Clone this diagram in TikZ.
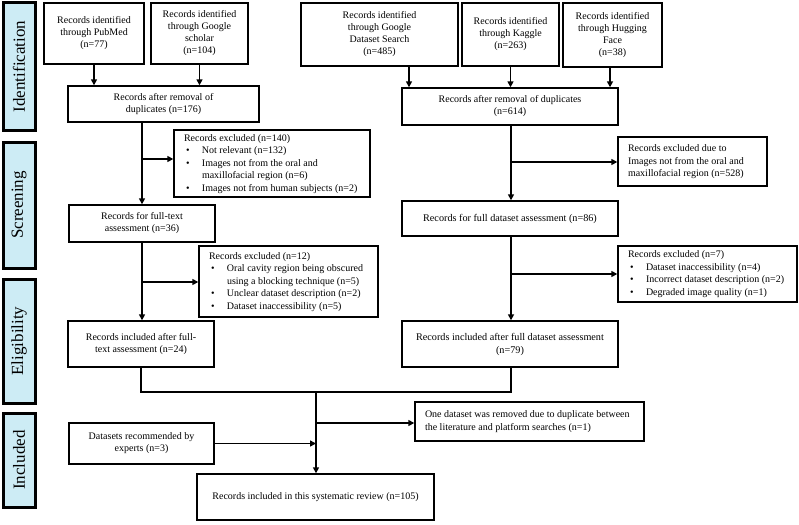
\documentclass[tikz,border=0pt]{standalone}
\usepackage{fontspec}
\setmainfont{Liberation Serif}
\usetikzlibrary{arrows.meta}
\definecolor{sidefill}{RGB}{205,236,245}
\newcommand\bulitem{\hspace*{2pt}\makebox[16pt][l]{\textbullet}}
\newcommand\indline{\hspace*{18pt}}
\newcommand\lefttext[2]{\makebox[#1][l]{\begin{tabular}{@{}l@{}}#2\end{tabular}}}
\begin{document}
\begin{tikzpicture}[x=1pt,y=-1pt,
  box/.style={draw, line width=1.4pt, inner sep=2pt, align=center, font=\fontsize{10}{12}\selectfont},
  bx/.style 2 args={box, minimum width=#1pt, minimum height=#2pt},
  lb/.style 2 args={box, inner xsep=10pt, minimum width=#1pt, minimum height=#2pt, font=\fontsize{10}{12.5}\selectfont},
  big/.style={font=\fontsize{10.2}{13}\selectfont},
  side/.style={draw, line width=3pt, fill=sidefill, minimum height=32pt, rotate=90, inner sep=0pt, font=\fontsize{17}{20}\selectfont},
  conn/.style={line width=1.8pt},
  arr/.style={conn, -{Triangle[length=6pt,width=6pt]}},
]
\useasboundingbox (0,0) rectangle (799,524);
\fill[white] (0,0) rectangle (799,524);

% side bars
\node[side, minimum width=127pt] (sId) at (19,66.5) {Identification};
\node[side, minimum width=126pt] (sSc) at (19,205) {Screening};
\node[side, minimum width=124pt] (sEl) at (19,341) {Eligibility};
\node[side, minimum width=94pt] (sIn) at (19,460) {Included};

% left column
\node[bx={100}{61}] (pub) at (94,33.5) {Records identified\\through PubMed\\(n=77)};
\node[bx={97}{61}] (gs) at (199.5,33.5) {Records identified\\through Google\\scholar\\(n=104)};
\node[bx={191}{36}] (dupL) at (163.5,104) {Records after removal of\\duplicates (n=176)};
\node[lb={196}{67}] (exL) at (272,163.5) {\lefttext{176pt}{Records excluded (n=140)\\\bulitem Not relevant (n=132)\\\bulitem Images not from the oral and\\\indline maxillofacial region (n=6)\\\bulitem Images not from human subjects (n=2)}};
\node[bx={146}{37}] (ftL) at (142,223.5) {Records for full-text\\assessment (n=36)};
\node[lb={179}{71}] (ex2L) at (288.5,281.5) {\lefttext{159pt}{Records excluded (n=12)\\\bulitem Oral cavity region being obscured\\\indline using a blocking technique (n=5)\\\bulitem Unclear dataset description (n=2)\\\bulitem Dataset inaccessibility (n=5)}};
\node[bx={146}{46}] (incL) at (141,344) {Records included after full-\\text assessment (n=24)};

% right column
\node[bx={157}{63}] (gds) at (379.5,34.5) {Records identified\\through Google\\Dataset Search\\(n=485)};
\node[bx={97}{63}] (kag) at (510.5,34.5) {Records identified\\through Kaggle\\(n=263)};
\node[bx={99}{64}] (hf) at (612.5,35) {Records identified\\through Hugging\\Face\\(n=38)};
\node[bx={216}{37}] (dupR) at (510,106.5) {Records after removal of duplicates\\(n=614)};
\node[lb={149}{49}] (exR) at (692.5,161.5) {\lefttext{129pt}{Records excluded due to\\Images not from the oral and\\maxillofacial region (n=528)}};
\node[bx={216}{35}, big] (fdR) at (510,218.5) {Records for full dataset assessment (n=86)};
\node[lb={179}{56}] (ex2R) at (707.5,274) {\lefttext{159pt}{Records excluded (n=7)\\\bulitem Dataset inaccessibility (n=4)\\\bulitem Incorrect dataset description (n=2)\\\bulitem Degraded image quality (n=1)}};
\node[bx={216}{46}, big] (incR) at (510,344) {Records included after full dataset assessment\\(n=79)};

% bottom
\node[bx={145}{41}] (rec) at (141.5,443.5) {Datasets recommended by\\experts (n=3)};
\node[lb={229}{39}] (one) at (529.5,421.5) {\lefttext{209pt}{One dataset was removed due to duplicate between\\the literature and platform searches (n=1)}};
\node[bx={237}{46}] (fin) at (315.5,497) {Records included in this systematic review (n=105)};

% coordinates
\coordinate (gdsA) at (409,66);
\coordinate (hfA) at (610,67);
\coordinate (bL1) at (142,159);
\coordinate (bL2) at (142,282);
\coordinate (bR1) at (511,162);
\coordinate (bR2) at (511,274);
\coordinate (mrg) at (316,392);
\coordinate (bM) at (316,423);

% connectors left
\draw[arr] (pub.south) -- (pub.south |- dupL.north);
\draw[arr] (gs.south) -- (gs.south |- dupL.north);
\draw[arr] (ftL.north |- dupL.south) -- (ftL.north);
\draw[arr] (bL1) -- (bL1 -| exL.west);
\draw[arr] (ftL.south) -- (incL.north -| ftL.south);
\draw[arr] (bL2) -- (bL2 -| ex2L.west);

% connectors right
\draw[arr] (gdsA) -- (gdsA |- dupR.north);
\draw[arr] (kag.south) -- (kag.south |- dupR.north);
\draw[arr] (hfA) -- (hfA |- dupR.north);
\draw[arr] (bR1 |- dupR.south) -- (bR1 |- fdR.north);
\draw[arr] (bR1) -- (bR1 -| exR.west);
\draw[arr] (bR2 |- fdR.south) -- (bR2 |- incR.north);
\draw[arr] (bR2) -- (bR2 -| ex2R.west);

% merge
\draw[conn] (incL.south) -- (incL.south |- mrg) -- (bR2 |- mrg) -- (bR2 |- incR.south);
\draw[arr] (mrg) -- (mrg |- fin.north);
\draw[arr] (bM) -- (bM -| one.west);
\draw[arr] (rec.east) -- (rec.east -| mrg);
\end{tikzpicture}
\end{document}
